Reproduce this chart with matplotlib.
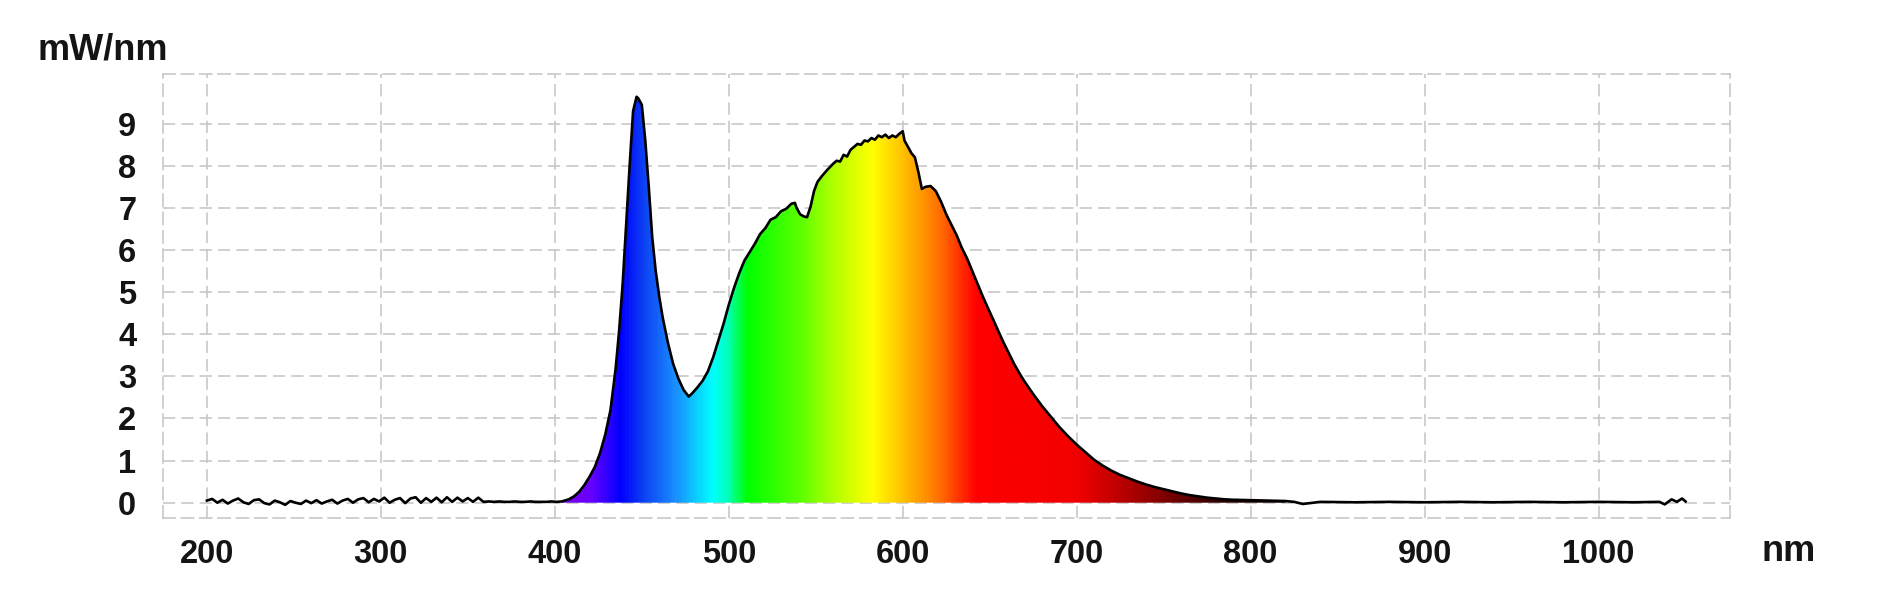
import matplotlib
matplotlib.use("Agg")
import matplotlib.pyplot as plt
import numpy as np
from matplotlib.colors import LinearSegmentedColormap

plt.rcParams['font.family'] = ['Liberation Sans', 'DejaVu Sans']
plt.rcParams['font.weight'] = 'bold'

# noise floor below the LED emission (UV side)
uv_nm = np.arange(200, 404, 3)
uv_mw = [0.05, 0.09, 0.0, 0.07, -0.02, 0.05, 0.1, 0.01, -0.03, 0.06,
         0.08, -0.01, -0.04, 0.05, 0.01, -0.05, 0.04, 0.0, -0.03, 0.05,
         -0.01, 0.06, -0.02, 0.03, 0.07, -0.02, 0.05, 0.09, 0.0, 0.08,
         0.11, 0.01, 0.09, 0.03, 0.12, 0.0, 0.07, 0.11, -0.01, 0.1,
         0.13, 0.0, 0.11, 0.02, 0.12, 0.01, 0.13, 0.02, 0.12, 0.03,
         0.11, 0.02, 0.12, 0.02, 0.03, 0.02, 0.03, 0.02, 0.02, 0.03,
         0.02, 0.02, 0.03, 0.02, 0.02, 0.02, 0.03, 0.02]

# visible emission (blue chip + phosphor)
vis_nm = [404, 408, 411, 414, 417, 420, 423, 426, 429, 432, 435, 437, 439, 441,
          443, 445, 447, 448, 450, 452, 454, 456, 458, 460, 462, 465, 468, 471,
          474, 477, 479, 482, 485, 488, 491, 494, 497, 500, 503, 506, 509, 512,
          515, 518, 521, 524, 527, 530, 533, 536, 538, 539, 541, 543, 545, 547,
          549, 551, 554, 557, 560, 562, 564, 566, 568, 570, 572, 574, 576, 578,
          580, 582, 584, 586, 588, 590, 592, 594, 596, 598, 600, 601, 603, 605,
          607, 609, 611, 613, 616, 619, 622, 625, 628, 631, 634, 637, 640, 643,
          646, 649, 652, 655, 658, 661, 664, 667, 670, 675, 680, 685, 690, 695,
          700, 705, 710, 715, 720, 725, 730, 735, 740, 745, 750, 755, 760, 765,
          770, 775, 780, 785, 790, 800, 810, 820]
vis_mw = [0.03, 0.08, 0.15, 0.26, 0.42, 0.62, 0.85, 1.18, 1.62, 2.2, 3.2, 4.1, 5.2, 6.6,
          8.0, 9.3, 9.64, 9.6, 9.45, 8.6, 7.5, 6.3, 5.5, 4.9, 4.4, 3.8, 3.3, 2.95,
          2.68, 2.52, 2.6, 2.74, 2.9, 3.12, 3.45, 3.85, 4.25, 4.7, 5.1, 5.45, 5.75, 5.95,
          6.15, 6.38, 6.52, 6.72, 6.78, 6.92, 6.98, 7.1, 7.12, 7.0, 6.85, 6.8, 6.78, 7.03,
          7.4, 7.62, 7.78, 7.92, 8.05, 8.12, 8.1, 8.26, 8.22, 8.38, 8.45, 8.52, 8.5, 8.6,
          8.58, 8.66, 8.62, 8.72, 8.68, 8.74, 8.66, 8.72, 8.68, 8.76, 8.82, 8.6, 8.45, 8.3,
          8.2, 7.85, 7.45, 7.5, 7.52, 7.4, 7.15, 6.85, 6.6, 6.35, 6.05, 5.8, 5.5, 5.2,
          4.9, 4.62, 4.35, 4.07, 3.8, 3.55, 3.3, 3.08, 2.88, 2.58, 2.3, 2.05, 1.8, 1.58,
          1.38, 1.2, 1.02, 0.88, 0.76, 0.66, 0.58, 0.5, 0.43, 0.37, 0.32, 0.27, 0.22, 0.18,
          0.15, 0.12, 0.1, 0.08, 0.07, 0.06, 0.05, 0.04]

# noise floor on the IR side
ir_nm = [825, 830, 840, 860, 880, 900, 920, 940, 960, 980, 1000, 1020, 1035, 1038, 1042, 1045, 1048, 1050]
ir_mw = [0.02, -0.03, 0.02, 0.01, 0.02, 0.01, 0.02, 0.01, 0.02, 0.01, 0.02, 0.01, 0.02, -0.04, 0.08, 0.02, 0.1, 0.03]

x_ticks = [200, 300, 400, 500, 600, 700, 800, 900, 1000]
y_ticks = [0, 1, 2, 3, 4, 5, 6, 7, 8, 9]

all_nm = np.concatenate([uv_nm, vis_nm, ir_nm])
all_mw = np.concatenate([uv_mw, vis_mw, ir_mw])

# spectral colours for the fill
stops = [(400, (0.5, 0.0, 0.85)), (420, (0.4, 0.0, 1.0)), (437, (0.0, 0.0, 1.0)),
         (450, (0.05, 0.25, 0.95)), (468, (0.1, 0.55, 1.0)), (490, (0.0, 1.0, 1.0)),
         (498, (0.0, 1.0, 0.75)), (510, (0.0, 1.0, 0.0)), (540, (0.35, 1.0, 0.0)),
         (560, (0.7, 1.0, 0.0)), (582, (1.0, 1.0, 0.0)), (600, (1.0, 0.75, 0.0)),
         (620, (1.0, 0.45, 0.0)), (642, (1.0, 0.0, 0.0)), (700, (0.95, 0.0, 0.0)),
         (740, (0.6, 0.0, 0.0)), (780, (0.2, 0.0, 0.0)), (830, (0.05, 0.0, 0.0))]
lo, hi = stops[0][0], stops[-1][0]
spec_cmap = LinearSegmentedColormap.from_list(
    'spec', [((w - lo) / (hi - lo), c) for w, c in stops])

fig = plt.figure(figsize=(18.9, 5.92), dpi=100)
ax = fig.add_axes([0.086, 0.1245, 0.8293, 0.7505])

poly = ax.fill_between(vis_nm, 0, vis_mw, color='none', lw=0)
grad = np.linspace(lo, hi, 800).reshape(1, -1)
img = ax.imshow(grad, extent=[lo, hi, 0, max(vis_mw)], aspect='auto', origin='lower',
                cmap=spec_cmap, vmin=lo, vmax=hi, zorder=2, interpolation='bilinear')
img.set_clip_path(poly.get_paths()[0], ax.transData)

ax.plot(all_nm, all_mw, color='black', lw=1.9, zorder=3)

ax.set_xlim(174.5, 1075.5)
ax.set_ylim(-0.37, 10.18)
ax.set_xticks(x_ticks)
ax.set_yticks(y_ticks)
ax.tick_params(length=0, labelsize=23.5, colors='#141414')
ax.tick_params(axis='x', pad=15)
ax.tick_params(axis='y', pad=19)
for lab in ax.get_xticklabels() + ax.get_yticklabels():
    lab.set_fontweight('bold')

ax.set_axisbelow(True)
ax.grid(True, color='#c4c4c4', lw=1.1, linestyle=(0, (8, 4)))
for sp in ax.spines.values():
    sp.set_color('#c4c4c4')
    sp.set_linewidth(1.1)
    sp.set_linestyle((0, (8, 4)))

fig.text(0.0196, 0.9155, 'mW/nm', fontsize=26, fontweight='bold', ha='left', va='center', color='#141414')
fig.text(0.9466, 0.0676, 'nm', fontsize=26, fontweight='bold', ha='center', va='center', color='#141414')

fig.savefig('out.png', dpi=100)
